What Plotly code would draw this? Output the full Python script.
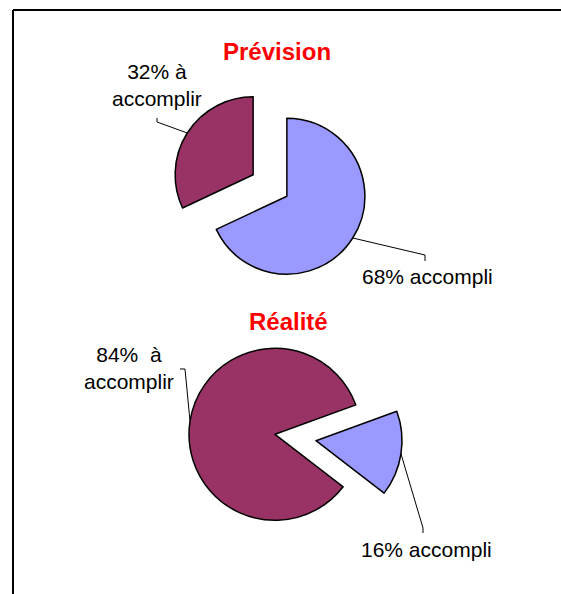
import math
import plotly.graph_objects as go

W, H = 561, 594

# ---- data ----
categories = ["accompli", "à accomplir"]
prevision_values = [68, 32]
realite_values = [16, 84]
chart_titles = ["Prévision", "Réalité"]
prevision_label_fmt = ["{v}% accompli", "{v}% à<br>accomplir"]
realite_label_fmt = ["{v}% accompli", "{v}%\u00a0 à<br>accomplir"]

slice_colors = ["#9999FF", "#993366"]
FONT = "Liberation Sans, Arial, sans-serif"


def pxx(x):
    return x / W


def pxy(y):
    return 1 - y / H


# pixel layout of each pie (style/placement only)
pies = [
    dict(values=prevision_values, fmt=prevision_label_fmt, title=chart_titles[0],
         center=(270, 185.5), r=78, pull=0.256, rotation=0, title_pos=(277, 51),
         labels=[dict(pos=(427, 277), elbow=[(425, 255), (425, 261)]),
                 dict(pos=(157, 85), elbow=[(157, 122), (157, 118)])]),
    dict(values=realite_values, fmt=realite_label_fmt, title=chart_titles[1],
         center=(295.5, 437.5), r=86, pull=0.241, rotation=70, title_pos=(288, 321),
         labels=[dict(pos=(426, 549), elbow=[(423, 528), (423, 533)]),
                 dict(pos=(129, 368), elbow=[(185, 369), (180, 369)])]),
]

fig = go.Figure()
annotations = []
shapes = []

for p in pies:
    cx, cy = p["center"]
    r, pull = p["r"], p["pull"]
    s = r * (1 + pull) * 2
    fig.add_trace(go.Pie(
        values=p["values"], labels=categories, sort=False, direction="clockwise",
        rotation=p["rotation"], pull=[pull] * len(p["values"]),
        marker=dict(colors=slice_colors, line=dict(color="black", width=1.5)),
        textinfo="none", hoverinfo="label+percent", showlegend=False,
        domain=dict(x=[pxx(cx - s / 2), pxx(cx + s / 2)],
                    y=[pxy(cy + s / 2), pxy(cy - s / 2)]),
    ))
    annotations.append(dict(
        text="<b>%s</b>" % p["title"], x=pxx(p["title_pos"][0]), y=pxy(p["title_pos"][1]),
        xref="paper", yref="paper", xanchor="center", yanchor="middle", showarrow=False,
        font=dict(family=FONT, size=24, color="#FF0000")))

    total = sum(p["values"])
    acc = 0
    for v, fmt, lab in zip(p["values"], p["fmt"], p["labels"]):
        mid = math.radians(p["rotation"] + 360 * (acc + v / 2) / total)
        acc += v
        vx = cx + pull * r * math.sin(mid)
        vy = cy - pull * r * math.cos(mid)
        ex = vx + r * math.sin(mid)
        ey = vy - r * math.cos(mid)
        pts = [(ex, ey)] + lab["elbow"]
        path = "M " + " L ".join("%f,%f" % (pxx(x), pxy(y)) for x, y in pts)
        shapes.append(dict(type="path", path=path, xref="paper", yref="paper",
                           line=dict(color="black", width=1)))
        annotations.append(dict(
            text=fmt.format(v=v), x=pxx(lab["pos"][0]), y=pxy(lab["pos"][1]),
            xref="paper", yref="paper", xanchor="center", yanchor="middle",
            align="center", showarrow=False,
            font=dict(family=FONT, size=21, color="black")))

# outer frame (top and left edges visible)
shapes.append(dict(type="line", xref="paper", yref="paper", x0=pxx(13), y0=pxy(10),
                   x1=1.0, y1=pxy(10), line=dict(color="black", width=2)))
shapes.append(dict(type="line", xref="paper", yref="paper", x0=pxx(13), y0=pxy(10),
                   x1=pxx(13), y1=0.0, line=dict(color="black", width=2)))

fig.update_layout(
    width=W, height=H, autosize=False,
    margin=dict(l=0, r=0, t=0, b=0),
    paper_bgcolor="white", plot_bgcolor="white",
    showlegend=False,
    annotations=annotations, shapes=shapes,
)

fig.write_html(
    "out.html",
    config={"displayModeBar": False},
    post_script="document.body.style.margin='0px';document.body.style.overflow='hidden';",
)
